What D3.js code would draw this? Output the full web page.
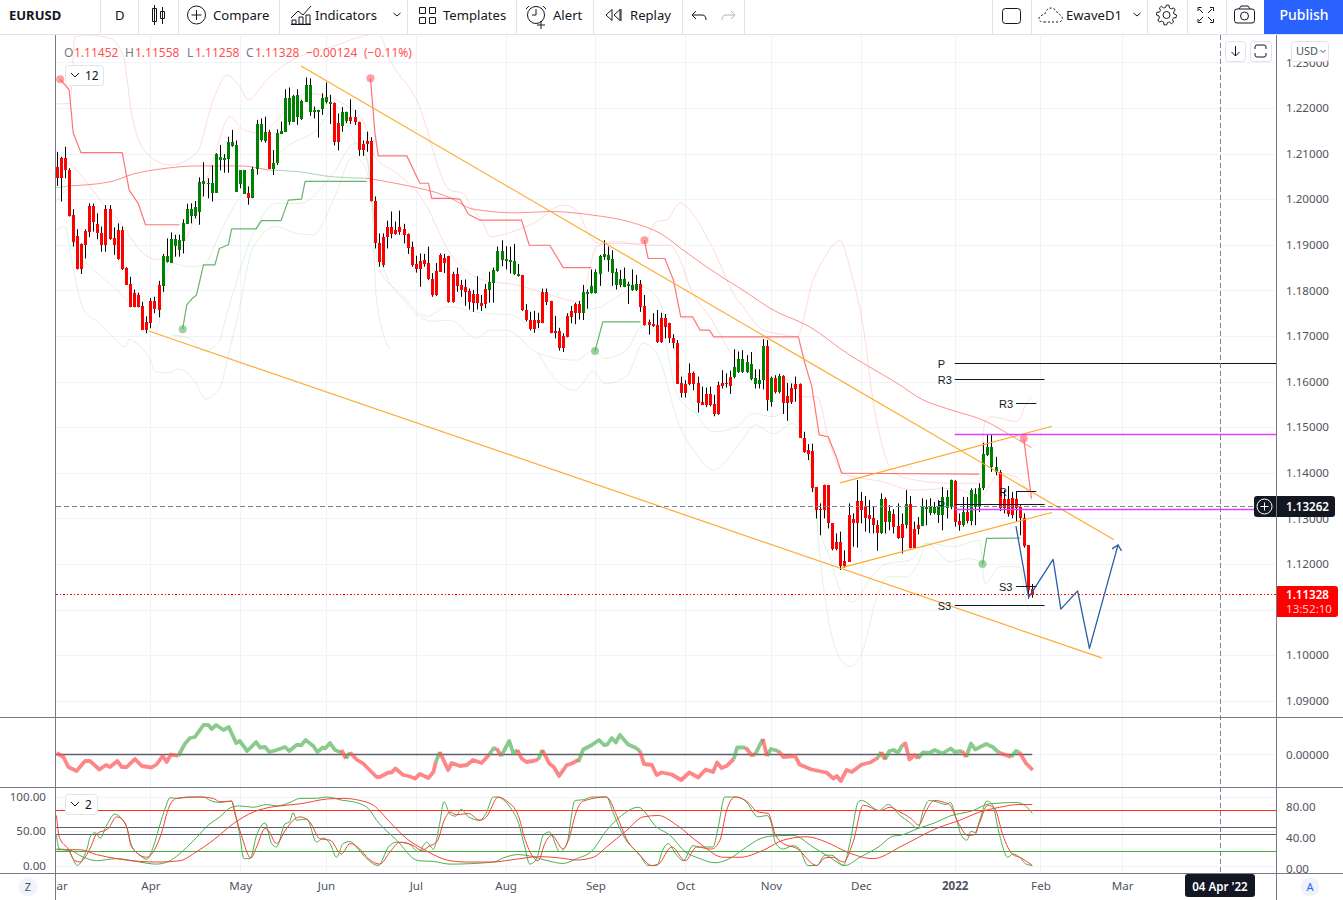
<!DOCTYPE html>
<html>
<head>
<meta charset="utf-8">
<title>EURUSD</title>
<script src="https://cdn.jsdelivr.net/npm/d3@7/dist/d3.min.js"></script>
<style>
  html, body { margin: 0; padding: 0; background: #fff; overflow: hidden; }
  svg { display: block; }
  text { font-family: "Noto Sans", sans-serif; }
  .axis path { display: none; }
  .axis line { display: none; }
</style>
</head>
<body>
<svg id="chart" width="1343" height="900"></svg>
<script>
// daily candles, prices in 1/10000
const highs = [
  12104,12093,12115,12068,11978,11934,11903,11934,11991,11990,
  11969,11940,11987,11987,11938,11947,11940,11851,11830,11802,
  11795,11775,11743,11783,11786,11821,11880,11914,11927,11922,
  11922,11956,11990,11991,11996,12048,12081,12046,12074,12101,
  12119,12099,12137,12152,12129,12064,12064,12028,12071,12174,
  12177,12181,12152,12108,12153,12170,12241,12245,12229,12241,
  12218,12267,12265,12203,12196,12232,12256,12229,12212,12188,
  12202,12192,12219,12196,12170,12129,12148,12136,12006,11925,
  11925,11953,11973,11951,11975,11946,11925,11907,11876,11881,
  11880,11896,11838,11860,11881,11880,11876,11841,11850,11823,
  11824,11804,11801,11831,11790,11814,11841,11850,11896,11910,
  11897,11896,11902,11858,11834,11770,11753,11755,11751,11804,
  11804,11777,11744,11718,11706,11750,11766,11773,11777,11812,
  11802,11846,11846,11878,11910,11896,11888,11848,11845,11850,
  11819,11846,11834,11823,11790,11736,11750,11757,11751,11748,
  11729,11704,11691,11611,11603,11640,11622,11611,11589,11587,
  11589,11571,11600,11625,11618,11624,11671,11666,11669,11658,
  11665,11627,11627,11693,11691,11611,11614,11617,11614,11597,
  11596,11611,11596,11490,11463,11464,11369,11333,11374,11373,
  11289,11267,11271,11230,11333,11311,11384,11358,11349,11340,
  11325,11296,11355,11346,11329,11320,11333,11311,11362,11349,
  11293,11303,11344,11341,11344,11336,11340,11369,11362,11385,
  11384,11311,11347,11347,11366,11366,11377,11466,11483,11483,
  11435,11406,11362,11371,11358,11358,11329,11311,11241,11156]
const opens = [
  12071,12090,12090,12064,11966,11919,11902,11930,11985,11985,
  11946,11925,11978,11978,11916,11933,11933,11849,11814,11794,
  11790,11766,11731,11777,11777,11812,11810,11862,11861,11898,
  11889,11909,11946,11963,11963,11973,12034,12033,12014,12014,
  12085,12085,12089,12117,12016,12033,12012,12014,12003,12066,
  12129,12128,12148,12066,12079,12144,12148,12170,12170,12181,
  12175,12214,12192,12191,12191,12197,12213,12209,12210,12167,
  12161,12172,12180,12180,12169,12121,12127,12127,11995,11905,
  11917,11938,11938,11933,11938,11935,11923,11895,11858,11865,
  11867,11860,11824,11842,11878,11872,11876,11836,11836,11811,
  11807,11798,11792,11792,11772,11803,11801,11817,11842,11867,
  11864,11862,11836,11831,11834,11758,11736,11736,11736,11796,
  11796,11776,11711,11711,11700,11744,11754,11771,11771,11751,
  11792,11795,11795,11837,11874,11867,11839,11812,11812,11808,
  11810,11801,11801,11815,11766,11731,11726,11724,11739,11739,
  11728,11695,11684,11596,11595,11619,11619,11598,11556,11573,
  11573,11551,11592,11596,11598,11609,11609,11622,11622,11621,
  11605,11595,11595,11603,11678,11555,11608,11577,11612,11568,
  11585,11595,11595,11477,11450,11447,11368,11320,11373,11373,
  11289,11249,11249,11207,11307,11298,11338,11338,11325,11307,
  11301,11285,11267,11342,11292,11309,11283,11287,11285,11331,
  11276,11285,11284,11320,11312,11312,11307,11307,11322,11325,
  11382,11294,11285,11313,11294,11324,11324,11366,11440,11412,
  11402,11402,11342,11342,11344,11342,11325,11300,11241,11145]
const closes = [
  12046,12046,12063,11963,11907,11846,11846,11900,11929,11949,
  11925,11900,11900,11912,11900,11869,11846,11812,11763,11763,
  11764,11713,11713,11729,11759,11756,11876,11876,11913,11913,
  11911,11947,11979,11979,11982,12038,12039,12036,12036,12099,
  12092,12090,12125,12125,12119,12064,12064,12003,12066,12165,
  12165,12148,12066,12079,12145,12150,12221,12221,12227,12229,
  12215,12251,12251,12196,12196,12223,12225,12214,12125,12125,
  12191,12191,12172,12169,12108,12108,12120,11995,11905,11863,
  11856,11917,11923,11924,11929,11922,11894,11856,11846,11848,
  11857,11824,11790,11791,11841,11860,11775,11774,11810,11801,
  11796,11774,11773,11773,11766,11770,11818,11845,11886,11886,
  11868,11867,11864,11837,11757,11735,11715,11715,11728,11729,
  11775,11707,11707,11674,11674,11698,11742,11751,11751,11796,
  11796,11810,11840,11875,11880,11878,11868,11840,11825,11825,
  11814,11812,11814,11764,11724,11725,11722,11687,11687,11720,
  11695,11684,11595,11576,11576,11595,11595,11554,11549,11549,
  11549,11529,11529,11590,11595,11590,11631,11649,11649,11644,
  11638,11607,11603,11678,11560,11608,11577,11612,11554,11554,
  11556,11583,11477,11446,11441,11367,11318,11318,11318,11289,
  11233,11233,11195,11195,11205,11290,11290,11318,11300,11298,
  11285,11267,11342,11292,11316,11282,11257,11256,11331,11236,
  11236,11276,11327,11325,11327,11325,11327,11346,11347,11384,
  11293,11285,11313,11294,11362,11353,11366,11442,11456,11456,
  11412,11323,11322,11309,11307,11323,11300,11239,11144,11133]
const lows = [
  12029,11995,12046,11962,11896,11846,11836,11870,11917,11929,
  11912,11885,11885,11911,11878,11867,11845,11812,11763,11763,
  11763,11713,11706,11717,11750,11741,11797,11861,11861,11874,
  11874,11881,11946,11947,11958,11944,12006,12002,11995,12014,
  12063,12058,12058,12115,12016,12024,12012,11988,12002,12054,
  12126,12124,12066,12053,12075,12143,12148,12163,12170,12163,
  12174,12214,12183,12177,12135,12185,12210,12165,12118,12107,
  12148,12167,12165,12163,12095,12095,12104,11995,11892,11852,
  11851,11892,11914,11922,11922,11903,11880,11852,11839,11808,
  11852,11823,11786,11788,11841,11838,11773,11773,11797,11786,
  11766,11758,11753,11758,11755,11761,11773,11773,11841,11853,
  11846,11837,11834,11830,11755,11732,11712,11707,11717,11728,
  11768,11706,11695,11668,11665,11697,11728,11726,11736,11735,
  11760,11793,11793,11810,11867,11841,11810,11802,11807,11807,
  11770,11799,11799,11753,11723,11703,11720,11685,11685,11695,
  11685,11673,11595,11565,11565,11592,11581,11532,11549,11544,
  11546,11524,11527,11585,11587,11573,11607,11619,11619,11619,
  11603,11585,11585,11583,11536,11545,11574,11574,11529,11514,
  11551,11556,11477,11444,11428,11358,11300,11263,11300,11278,
  11230,11230,11187,11192,11205,11238,11236,11289,11271,11268,
  11267,11229,11266,11267,11274,11267,11255,11223,11278,11234,
  11234,11265,11283,11285,11307,11309,11290,11274,11300,11320,
  11282,11273,11282,11289,11285,11285,11314,11362,11437,11402,
  11395,11316,11311,11304,11300,11293,11263,11236,11124,11126]

// axis ticks
const priceTicks = [1.23,1.22,1.21,1.20,1.19,1.18,1.17,1.16,1.15,1.14,1.13,1.12,1.11,1.10,1.09]
const hiddenPriceLabels = [1.11]   // sits behind the last price tag
const timeTicks = [0,23,45,66,88,110,132,154,175,197,220,241,261]
const timeLabels = ["Mar","Apr","May","Jun","Jul","Aug","Sep","Oct","Nov","Dec","2022","Feb","Mar"]
const stochLeftTicks = [100,50,0]
const stochRightTicks = [80,40,0]

// trailing stop runs, [bar, price]
const stopRedA = [[0.9,12263],[3.1,12240],[4.1,12145],[6,12102],[16.1,12102],[17.8,12020],[20,11991],[21.8,11944],[30.1,11944]]
const stopGreenA = [[30.9,11715],[31.9,11768],[33.1,11781],[34.3,11790],[36,11856],[38.8,11856],[39.9,11892],[42.1,11900],[42.9,11935],[48.9,11935],[50.2,11953],[55,11953],[56.8,11998],[60,12000],[60.9,12039],[76,12039]]
const stopRedB = [[76.9,12265],[78,12145],[78.8,12095],[85.8,12095],[89,12035],[91.1,12035],[91.9,12002],[96.4,12002],[98.8,12000],[100.9,11967],[103.7,11954],[113.9,11954],[115.8,11899],[120.8,11899],[124.1,11850],[131,11850]]
const stopGreenB = [[131.9,11667],[133.8,11731],[143,11731]]
const stopRedC = [[144,11910],[144.9,11870],[149,11870],[151.1,11823],[152.9,11742],[155.8,11742],[157.6,11713],[159.9,11713],[161,11698],[181.7,11698],[183.3,11640],[185,11589],[186.8,11483],[189,11479],[191,11435],[192.3,11399],[192.7,11399],[226,11397]]
const stopGreenC = [[226.8,11200],[227.8,11256],[236.1,11257]]
const stopRedD = [[236.9,11475],[238.8,11344]]

// long moving average
const maGreenA = [[0,12025],[2.8,12029]]
const maRedA = [[2.8,12029],[13.1,12038],[18.7,12055],[25.3,12066],[35,12073],[44.9,12073],[51.8,12064]]
const maGreenB = [[51.8,12064],[59.6,12060],[67.7,12049],[75.8,12046]]
const maRedB = [[75.8,12046],[84.1,12033],[96.4,12003],[101.3,11980],[104.5,11975],[112.7,11970],[120.9,11973],[131.4,11965],[140.5,11950],[148.6,11921],[153.4,11889],[160,11847],[169.9,11790],[174.7,11761],[184.5,11720],[194.3,11658],[198.4,11636],[205.8,11597],[212.2,11560],[218,11541],[227.8,11512],[234.3,11479],[238.8,11455]]

// faint envelope bands
const bandRedOuter = [[0,12209],[3.3,12210],[4.5,12357],[7.4,12360],[13.1,12353],[16.4,12313],[18.4,12188],[22.1,12101],[27.8,12075],[34.3,12101],[38.4,12218],[41.7,12272],[44.9,12247],[47,12218],[51.5,12262],[56.4,12298],[67.8,12335],[76,12360],[78.8,12364],[81.7,12305],[88.2,12218],[96.4,12020],[99.6,12013],[101.3,11987],[104.5,11947],[106.2,11918],[112.7,11932],[116.8,11947],[124.1,11987],[127.4,11976],[130.7,11918],[133.1,11903],[143.7,11903],[147,11951],[149.4,11954],[152.7,11992],[155.1,11976],[158.4,11932],[161.7,11874],[165.8,11793],[168.2,11764],[173.1,11713],[178.8,11702],[181.3,11698],[185.3,11823],[187.8,11867],[191.9,11909],[194.3,11851],[198.4,11669],[199.6,11581],[201.7,11479],[204.1,11413],[208.2,11388],[218.8,11377],[226,11377],[227.4,11512],[229,11523],[235.1,11512],[237.6,11552],[238.8,11567]]
const bandRedInner = [[0,12101],[4.9,12064],[10.7,11998],[16.4,11940],[20.4,11889],[24.5,11868],[27.8,11870],[34.3,11969],[38.4,12086],[42.5,12181],[45.8,12152],[49.8,12145],[56.4,12196],[61.3,12232],[72.7,12196],[76,12152],[78,12093],[83.3,12057],[89.8,11998],[96.4,11881],[104.5,11823],[112.7,11812],[120,11793],[128.2,11775],[132.3,11896],[137.2,11907],[143.7,11899],[150.2,11899],[153.4,11852],[155.1,11808],[160,11742],[165.8,11655],[169.9,11618],[173.1,11611],[179.6,11603],[182,11567],[186.2,11567],[189.4,11464],[192.7,11399],[202.5,11380],[209.8,11362],[219.6,11366],[226.1,11347],[231,11398],[235.1,11391],[238.8,11340]]
const bandGreenA = [[0,11995],[2.9,12020],[4.3,11889],[8.2,11852],[13.9,11808],[19.6,11757],[24.5,11717],[27.8,11860],[32.7,11852],[36,11856],[40.4,11933],[44.9,12006],[49.8,12057],[56.4,12115],[63.7,12152],[68.6,12203],[73.1,12126],[76,12093],[77.2,12013],[78.8,11852],[84.1,11794],[90.7,11743],[95.6,11764],[104.5,11750],[111,11747],[118.4,11713],[127.4,11757],[132.3,11761],[137.2,11786],[143,11808],[147,11786],[151.1,11676],[156.8,11530],[160.9,11490],[166.6,11501],[170.6,11530],[175.5,11523],[180.4,11545],[182.9,11465],[185.3,11384],[186.2,11304],[189.4,11216],[192.3,11135],[195.1,11117],[199.6,11172],[203.3,11201],[209,11208],[213.1,11246],[219.6,11238],[226.1,11252],[227.4,11157],[231,11194],[235.9,11194],[237.6,11113],[238.8,11095]]
const bandGreenB = [[28,11702],[32.5,11696],[35.9,11667],[39.6,11685],[42,11757],[48.2,11925],[53.9,11991],[59.6,11991],[67.8,12057],[73.1,12123],[76,12086],[77.6,11969],[80,11852],[85,11779],[92,11732],[96.4,11735],[102.9,11695],[106.2,11713],[110.2,11713],[118,11662],[127.4,11647],[131.5,11669],[134.3,11651],[139.6,11669],[143.7,11724],[148.6,11698],[151.9,11574],[156.8,11530]]
const bandGreenC = [[0,11933],[2.1,11940],[3.7,11867],[6.7,11757],[10.4,11729],[14.1,11696],[17,11676],[17.8,11693],[19.5,11685],[22.7,11652],[24.4,11621],[27.6,11619],[29.8,11628],[33.7,11603],[36.6,11562],[39.1,11575],[40.3,11593],[42,11654],[44.7,11757],[48.2,11896],[53.9,11940],[58.8,11925],[62.9,11922],[67.8,11998],[72.7,12093],[74.3,12086],[76.8,12035],[78.4,11779],[81.7,11669]]
const bandGreenD = [[118,11662],[122.5,11603],[127,11581],[131.5,11622],[134.3,11596],[139.6,11611],[143.7,11684],[147,11662],[152.7,11501],[156,11450],[160.9,11406],[167.4,11465],[171.1,11505],[175.5,11486],[180.4,11508],[182.9,11465],[185.3,11384],[187,11216],[191.9,10993],[194.3,10975],[197.2,11004],[201.2,11135],[203.7,11172],[208.2,11172],[211,11201],[213.1,11245],[218.8,11205],[223.7,11212],[226.9,11201]]

// hand drawn trend lines, [bar, price]
const trendChannelTop = [[59.9,12292],[259,11253]]
const trendChannelBottom = [[22.6,11711],[256,10994]]
const trendWedgeTop = [[191.9,11378],[243.8,11502]]
const trendWedgeBottom = [[192.3,11192],[243.8,11313]]
const waveForecast = [[235,11283],[238.1,11127],[244.1,11210],[246,11101],[250.1,11141],[253,11015],[260,11242]]

// pivot levels
const pivotNames = ["P","R3","R3","R","P","S3","S3"]
const pivotPrices = [1.16397,1.16046,1.15520,1.1359,1.13305,1.11510,1.1109]
const pivotFrom = [220,220,235,235,220,235,220]
const pivotTo = [299,242,240,240,242,240,242]
const magentaPrices = [1.1484,1.13195]

// oscillator runs, [bar, value]
const oscGreen = [
  [[29.8,-.0003],[31.5,.0022],[32.7,.0033],[33.9,.0035],[36,.0059],[37.2,.0059],[38,.0051],[39.1,.0059],[40.9,.0049],[42.2,.0055],[44,.0023],[44.9,.0027],[46.7,.0007],[48.9,.0025],[49.8,.0014],[51.1,.0015],[52.1,.0005],[53.9,.0009],[56,.0015],[57,.0007],[58.8,.0019],[60,.0019],[61,.0029],[62.9,.0017],[63.9,.0005],[65.2,.0014],[65.8,.0012],[67,.0023],[68.2,.0009],[69.8,.0004]],
  [[70.9,-.0008],[71.9,.0004]],
  [[92.9,-.0015],[93.9,.0005]],
  [[106,0],[107,.0012],[107.8,.0012]],
  [[108.9,-.0003],[110.9,.0027],[111.9,.0002],[112.9,.0009]],
  [[118,-.0010],[119,.0009]],
  [[127.8,-.0015],[129,.0010],[131.1,.0019],[132.9,.0029],[134.1,.0019],[134.9,.0020],[136,.0033],[137,.0024],[138,.0039],[140,.0020],[141.7,.0014],[142.9,.0007]],
  [[165.9,-.0009],[166.7,.0014],[168.8,.0014]],
  [[171.1,0],[173,.0031]],
  [[174,-.0003],[175,.0011],[176.8,.0007]],
  [[201.3,-.0006],[202,.0005]],
  [[202.9,-.0010],[204,.0007],[205,.0009],[205.9,.0005],[206.1,.0004],[207.3,.0020]],
  [[211,-.0008],[212.2,.0004],[213.7,.0003],[215.1,.0009],[217,.0002],[219,.0012],[220,.0005],[221.8,.0007]],
  [[222.8,-.0005],[224,.0022],[225,.0010],[227.7,.0021],[229.3,.0015],[230.8,.0004]],
  [[233.8,-.0005],[235,.0007],[235.8,.0005]]
]
const oscRed = [
  [[0,.0003],[1.7,-.0005],[2.9,-.0025],[4.9,-.0033],[7,-.0013],[8.2,-.0013],[10.5,-.0030],[12.1,-.0021],[13.1,-.0025],[14.9,-.0013],[16,-.0025],[17.2,-.0025],[19.2,-.0009],[20.9,-.0023],[23.3,-.0026],[24.5,-.0020],[26,-.0003],[27,-.0015],[28,0],[29.8,-.0003]],
  [[69.8,.0009],[70.9,-.0008]],
  [[71.9,.0004],[73.5,-.0010],[75.1,-.0018],[78.4,-.0045],[79.2,-.0045],[81.3,-.0036],[82.1,-.0036],[83,-.0028],[84.9,-.0041],[86.2,-.0043],[87.8,-.0048],[89,-.0039],[91.1,-.0047],[92.3,-.0035],[92.9,-.0015]],
  [[93.9,.0005],[95.9,-.0031],[96.8,-.0017],[98.8,-.0023],[100.5,-.0021],[102,-.0011],[104.1,-.0017],[106,0]],
  [[107.8,.0012],[108.9,-.0003]],
  [[112.9,.0009],[113.9,-.0008],[115.1,-.0015],[116.8,-.0013],[118,-.0010]],
  [[119,.0009],[120.7,-.0018],[121.8,-.0025],[123.1,-.0043],[125,-.0021],[126.2,-.0018],[127.8,-.0011]],
  [[142.9,.0007],[143.9,-.0019],[145.8,-.0021],[147,-.0041],[148.2,-.0036],[150.7,-.0040],[153,-.0051],[155,-.0036],[157.2,-.0046],[159,-.0030],[160.8,-.0035],[161.8,-.0016],[162.9,-.0027],[164.1,-.0023],[165.9,-.0009]],
  [[168.8,.0014],[170.2,-.0001],[171.1,0]],
  [[173,.0031],[174,-.0003]],
  [[176.8,.0007],[178,-.0005],[180.9,-.0003],[182,-.0020],[184.9,-.0030],[188.6,-.0036],[190.3,-.0048],[191.1,-.0043],[192.1,-.0053],[193.5,-.0031],[194.8,-.0035],[197.2,-.0020],[199.3,-.0016],[201.3,-.0006]],
  [[202,.0005],[202.9,-.0010]],
  [[207.3,.0020],[207.9,.0022],[208.9,-.0010],[210.2,-.0001],[211,-.0008]],
  [[221.8,.0007],[222.8,-.0005]],
  [[230.8,.0004],[233.8,-.0005]],
  [[235.8,.0005],[237.5,-.0018],[239.1,-.0031]]
]

// stochastic lines, [bar, value]
const stochFastGreen = [[0,44],[.7,24],[2.9,22],[4,10],[5.1,0],[6.6,12],[7.6,27],[8.2,41],[9.4,48],[10.7,40],[12.3,59],[14.3,75],[16,68],[17.2,56],[18.4,29],[20.4,15],[22.1,9],[23.7,27],[25.3,59],[26.6,83],[27.8,99],[29.4,98],[31.9,100],[36,100],[37.6,95],[40,92],[42.9,94],[43.7,78],[44.9,44],[45.9,10],[47.4,10],[49,44],[51.1,62],[52.7,32],[53.9,27],[56,61],[57,63],[58,77],[58.8,66],[61.3,68],[63.7,34],[65.3,40],[67,32],[68.6,12],[70.2,32],[71.9,35],[73.9,24],[76,10],[78.8,0],[81.3,27],[83.3,34],[86.2,32],[88.6,20],[90.7,34],[92.3,24],[93.9,63],[94.9,93],[96.4,75],[97.8,72],[99.1,82],[100.9,71],[103.7,66],[105.2,76],[107,100],[107.8,100],[111.1,85],[113.1,63],[114.7,27],[115.9,2],[117.6,10],[119.2,44],[120.7,49],[123.3,20],[125,32],[127,95],[129,96],[131.1,100],[134.7,100],[136.4,76],[138.8,44],[142.9,15],[144.9,0],[147,0],[148.6,24],[149.8,32],[151.9,15],[153.5,7],[155.9,29],[157.6,27],[160.8,27],[162,54],[163.7,100],[166.6,100],[168.6,95],[171.9,71],[174,73],[175.2,59],[176,34],[178,24],[180.4,29],[182,24],[184,0],[186.2,0],[188.2,15],[189.9,15],[192.7,0],[194.3,32],[196.4,93],[197.2,95],[199.3,88],[201.3,80],[203.7,89],[206.6,73],[208.9,63],[211,54],[212.2,78],[213.8,95],[215.5,93],[217.9,89],[218.9,92],[220.4,68],[221.6,44],[223,37],[224,50],[225,48],[226.2,68],[227.9,94],[229.3,88],[230.8,49],[233,12],[234.2,17],[235.9,12],[237.5,2],[239,0]]
const stochFastRed = [[0,73],[.7,41],[2.9,24],[4.5,7],[5.8,5],[7,12],[8.4,27],[9.8,46],[12.7,54],[14.7,71],[16,68],[17.2,56],[18.4,27],[22.1,12],[23.7,20],[25.8,49],[27.4,83],[29.4,98],[35.1,100],[38.4,98],[40,93],[42.9,94],[43.7,76],[45.3,44],[47.6,11],[49,27],[51.1,54],[51.9,51],[53.9,32],[56,51],[58,66],[59.6,71],[62.1,63],[64.5,39],[67,37],[69.8,17],[71.9,32],[74.3,24],[76.4,10],[79.2,2],[81.7,20],[84.1,34],[87.4,29],[89.4,22],[91.5,29],[93.1,34],[95.1,68],[96.4,78],[98,74],[100.9,76],[103.7,66],[105.3,71],[108.2,100],[110.3,94],[113.1,73],[114.7,39],[116.8,12],[118,7],[119.6,32],[121.3,44],[124.1,24],[125.4,37],[127.4,80],[129,94],[134.7,100],[137.2,73],[139.6,39],[142.9,15],[145.8,0],[147.4,2],[150.7,27],[154,7],[156.8,27],[160.4,24],[162.5,37],[164.1,80],[166.2,100],[169,94],[171.9,78],[174.3,76],[176,46],[178,32],[181.3,25],[186.2,0],[188.2,11],[190.3,12],[192.7,5],[195.1,34],[197.6,88],[201.7,80],[204.1,85],[206.6,78],[207.3,76],[209.4,68],[211.2,59],[213,80],[215,95],[217.5,92],[218.7,89],[220.8,63],[223.2,44],[224.9,45],[226,61],[228.1,88],[229.8,83],[231.8,44],[234.2,16],[235.9,12],[239,0]]
const stochSlowGreen = [[0,24],[2.9,23],[6.6,12],[9.8,7],[14.7,10],[20.4,5],[24.5,2],[27.8,7],[31.1,22],[34.3,41],[37.2,59],[40,71],[42.5,84],[44.9,87],[48.2,85],[51.5,89],[53.9,87],[57.2,92],[59.6,98],[63.7,98],[66.2,100],[70.2,95],[72.7,93],[76.4,83],[78.4,66],[83.3,37],[88.6,7],[92.3,6],[96.4,2],[107,5],[109.4,11],[113.1,16],[115.9,14],[120.9,6],[124.1,3],[127.4,10],[131.1,21],[134.7,51],[138,71],[142.5,85],[147,56],[150.3,44],[154,20],[157.2,11],[161.3,4],[164.5,9],[169,27],[172.3,39],[175.2,43],[180.4,44],[185.3,27],[189.4,12],[193.1,0],[196.8,12],[201.3,27],[205,43],[206.6,44],[211,54],[215,62],[218.7,72],[224.4,80],[228.5,90],[235,92],[237.1,88],[239,76]]
const stochSlowRed = [[0,23],[2.9,23],[5.8,23],[9.8,16],[14.7,10],[20.4,6],[25.3,5],[30.2,7],[34.3,20],[38.4,37],[43.3,61],[48.2,78],[51.5,84],[56.4,88],[59.6,90],[66.2,97],[70.2,98],[74.3,95],[77.6,88],[81.7,63],[85.8,39],[89.8,24],[96.4,7],[100.4,5],[106.6,5],[111.1,8],[118.4,13],[123.3,11],[127.4,8],[131.5,12],[134.7,27],[139.6,51],[143.7,71],[147.4,73],[151.9,59],[157.6,32],[163.3,12],[167.4,12],[173,22],[178,37],[183.7,42],[188.6,34],[193.9,19],[200,10],[206.6,27],[209.8,37],[215.5,54],[221.2,66],[226.1,78],[231,85],[235.5,89],[239,89]]
const stochRedLevel = 80
const stochGreenLevel = 20
const stochGrayLevels = [55.5,45.5]

const lastClose = 1.11328
const crossPrice = 1.13262
const crossBar = 285

const svg = d3.select("#chart")

// scales
const x = d3.scaleLinear().domain([0,239]).range([56.5,1032.3])
const yPrice = d3.scaleLinear().domain([1.22,1.09]).range([108,700.8])
const yOsc = d3.scaleLinear().domain([0,0.01]).range([754.5,704.5])
const yStoch = d3.scaleLinear().domain([0,100]).range([865.5,797])
const yStochRight = d3.scaleLinear().domain([0,80]).range([868.5,806.5])

const textGray = "#50535e"
const lineGray = "#787b86"
const gridColor = "#f0f3fa"
const snap = v => Math.floor(v)+.5

const defs = svg.append("defs")
defs.append("clipPath").attr("id","main-clip").append("rect").attr("x",56).attr("y",35).attr("width",1220).attr("height",682)
defs.append("clipPath").attr("id","time-clip").append("rect").attr("x",56).attr("y",874).attr("width",1220).attr("height",26)
defs.append("clipPath").attr("id","right-clip").append("rect").attr("x",1277).attr("y",788).attr("width",66).attr("height",85)

// grid
const grid = svg.append("g")
grid.selectAll("line.v").data(timeTicks.slice(1).concat([crossBar])).enter().append("line")
  .attr("x1",d=>Math.round(x(d))+.5).attr("x2",d=>Math.round(x(d))+.5)
  .attr("y1",35).attr("y2",873).attr("stroke",gridColor)
grid.selectAll("line.h").data(priceTicks).enter().append("line")
  .attr("x1",56).attr("x2",1276).attr("y1",d=>Math.round(yPrice(d))+.5).attr("y2",d=>Math.round(yPrice(d))+.5)
  .attr("stroke",gridColor)
grid.selectAll("line.s").data(stochLeftTicks).enter().append("line")
  .attr("x1",56).attr("x2",1276).attr("y1",d=>Math.round(yStoch(d))+.5).attr("y2",d=>Math.round(yStoch(d))+.5)
  .attr("stroke",gridColor)
grid.append("line").attr("x1",56).attr("x2",1276).attr("y1",754.5).attr("y2",754.5).attr("stroke",gridColor)

const priceLine = d3.line().x(d=>x(d[0])).y(d=>yPrice(d[1]/10000))
const main = svg.append("g").attr("clip-path","url(#main-clip)")

function drawPrice(data, color, width, opacity, curve) {
  main.append("path")
    .attr("d", priceLine.curve(curve || d3.curveLinear)(data))
    .attr("fill","none").attr("stroke",color).attr("stroke-width",width).attr("stroke-opacity",opacity)
    .attr("stroke-linejoin","round")
}

// faint bands first
;[bandRedOuter,bandRedInner].forEach(b=>drawPrice(b,"#ff5252",1,.2,d3.curveMonotoneX))
;[bandGreenA,bandGreenB,bandGreenC,bandGreenD].forEach(b=>drawPrice(b,"#4caf50",1,.17,d3.curveMonotoneX))

// long average
;[maGreenA,maGreenB].forEach(b=>drawPrice(b,"#388e3c",1,.4,d3.curveMonotoneX))
;[maRedA,maRedB].forEach(b=>drawPrice(b,"#ff5252",1,.65,d3.curveMonotoneX))

// stop runs with a dot on the first point
;[stopRedA,stopRedB,stopRedC,stopRedD].forEach(b=>{
  drawPrice(b,"#ff5252",1.2,.8)
  main.append("circle").attr("cx",x(b[0][0])).attr("cy",yPrice(b[0][1]/10000)).attr("r",4)
    .attr("fill","#ff5252").attr("fill-opacity",.55)
})
;[stopGreenA,stopGreenB,stopGreenC].forEach(b=>{
  drawPrice(b,"#43a047",1.2,.8)
  main.append("circle").attr("cx",x(b[0][0])).attr("cy",yPrice(b[0][1]/10000)).attr("r",4)
    .attr("fill","#4caf50").attr("fill-opacity",.55)
})

// candles
const bars = d3.range(highs.length).map(i=>({i, o:opens[i]/10000, h:highs[i]/10000, l:lows[i]/10000, c:closes[i]/10000}))
const candle = main.selectAll("g.candle").data(bars).enter().append("g")
candle.append("line")
  .attr("x1",d=>Math.round(x(d.i))+.5).attr("x2",d=>Math.round(x(d.i))+.5)
  .attr("y1",d=>yPrice(d.h)).attr("y2",d=>yPrice(d.l))
  .attr("stroke","#000")
candle.append("rect")
  .attr("x",d=>Math.round(x(d.i))-1).attr("width",3)
  .attr("y",d=>Math.round(yPrice(Math.max(d.o,d.c))))
  .attr("height",d=>Math.max(1,Math.round(yPrice(Math.min(d.o,d.c)))-Math.round(yPrice(Math.max(d.o,d.c)))))
  .attr("fill",d=>d.c>=d.o?"#008000":"#ff0000")

// trend lines
;[trendChannelTop,trendChannelBottom,trendWedgeTop,trendWedgeBottom].forEach(t=>drawPrice(t,"#ffa726",1.2,.95))
drawPrice(waveForecast,"#2a5ca8",1.3,1)
// arrow head on the wave
const tip = waveForecast[waveForecast.length-1]
main.append("path")
  .attr("d",`M${x(tip[0])-6},${yPrice(tip[1]/10000)+4}L${x(tip[0])},${yPrice(tip[1]/10000)}L${x(tip[0])+3.5},${yPrice(tip[1]/10000)+6}`)
  .attr("fill","none").attr("stroke","#2a5ca8").attr("stroke-width",1.3)

// pivots
pivotNames.forEach((name,k)=>{
  const yy = snap(yPrice(pivotPrices[k]))
  main.append("line").attr("x1",x(pivotFrom[k])).attr("x2",x(pivotTo[k])).attr("y1",yy).attr("y2",yy).attr("stroke","#131722")
  main.append("text").attr("x",x(pivotFrom[k])-17).attr("y",yy+4)
    .style("font-family","'Liberation Sans',sans-serif").attr("font-size",11).attr("fill","#131722").text(name)
})

// last price and crosshair lines
main.append("line").attr("x1",56).attr("x2",1277).attr("y1",snap(yPrice(lastClose))).attr("y2",snap(yPrice(lastClose)))
  .attr("stroke","#ff0000").attr("stroke-dasharray","1.5 2").attr("shape-rendering","crispEdges")
main.append("line").attr("x1",56).attr("x2",1277).attr("y1",snap(yPrice(crossPrice))).attr("y2",snap(yPrice(crossPrice)))
  .attr("stroke","#758696").attr("stroke-dasharray","5 3")

// magenta levels above the crosshair line
magentaPrices.forEach(p=>{
  main.append("line").attr("x1",x(220)).attr("x2",1277).attr("y1",snap(yPrice(p))).attr("y2",snap(yPrice(p)))
    .attr("stroke","#e040fb").attr("stroke-width",1.7)
})

// oscillator
const oscLine = d3.line().x(d=>x(d[0])).y(d=>yOsc(d[1])).curve(d3.curveLinear)
svg.append("line").attr("x1",56).attr("x2",x(239)).attr("y1",754.5).attr("y2",754.5).attr("stroke","#5d606b").attr("stroke-width",1.4)
oscGreen.forEach(run=>svg.append("path").attr("d",oscLine(run)).attr("fill","none").attr("stroke","#4caf50").attr("stroke-width",3.8).attr("stroke-opacity",.65).attr("stroke-linejoin","round"))
oscRed.forEach(run=>svg.append("path").attr("d",oscLine(run)).attr("fill","none").attr("stroke","#ff5252").attr("stroke-width",3.8).attr("stroke-opacity",.7).attr("stroke-linejoin","round"))

// stochastic
stochGrayLevels.forEach(v=>svg.append("line").attr("x1",56).attr("x2",1276).attr("y1",snap(yStoch(v))).attr("y2",snap(yStoch(v))).attr("stroke","#5d606b"))
svg.append("line").attr("x1",56).attr("x2",1276).attr("y1",snap(yStoch(stochRedLevel))).attr("y2",snap(yStoch(stochRedLevel))).attr("stroke","#ff2a1a").attr("shape-rendering","crispEdges")
svg.append("line").attr("x1",56).attr("x2",1276).attr("y1",snap(yStoch(stochGreenLevel))).attr("y2",snap(yStoch(stochGreenLevel))).attr("stroke","#43ad3c").attr("shape-rendering","crispEdges")
const stochLine = d3.line().x(d=>x(d[0])).y(d=>yStoch(d[1])).curve(d3.curveMonotoneX)
;[[stochSlowGreen,"#4caf50"],[stochSlowRed,"#f44336"],[stochFastGreen,"#4caf50"],[stochFastRed,"#f44336"]].forEach(s=>{
  svg.append("path").attr("d",stochLine(s[0])).attr("fill","none").attr("stroke",s[1]).attr("stroke-width",1)
})

// crosshair vertical
svg.append("line").attr("x1",Math.round(x(crossBar))+.5).attr("x2",Math.round(x(crossBar))+.5).attr("y1",35).attr("y2",873)
  .attr("stroke","#758696").attr("stroke-dasharray","5 3")

// pane frame
;[717.5,787.5,873.5].forEach(yy=>svg.append("line").attr("x1",0).attr("x2",1343).attr("y1",yy).attr("y2",yy).attr("stroke",lineGray))
svg.append("line").attr("x1",55.5).attr("x2",55.5).attr("y1",35).attr("y2",900).attr("stroke",lineGray)
svg.append("line").attr("x1",1276.5).attr("x2",1276.5).attr("y1",35).attr("y2",900).attr("stroke",lineGray)

// axes
const axisFont = 11.6
const rightAxis = svg.append("g").attr("class","axis").attr("transform","translate(1276,0)")
  .call(d3.axisRight(yPrice).tickValues(priceTicks.filter(p=>!hiddenPriceLabels.includes(p))).tickSize(0).tickPadding(10).tickFormat(d3.format(".5f")))
rightAxis.selectAll("text").attr("fill",textGray).attr("font-size",axisFont)

const oscAxis = svg.append("g").attr("class","axis").attr("transform","translate(1276,0)")
  .call(d3.axisRight(yOsc).tickValues([0]).tickSize(0).tickPadding(10).tickFormat(d3.format(".5f")))
oscAxis.selectAll("text").attr("fill",textGray).attr("font-size",axisFont)

const stochRightClip = svg.append("g").attr("clip-path","url(#right-clip)")
const stochRight = stochRightClip.append("g").attr("class","axis").attr("transform","translate(1276,0)")
  .call(d3.axisRight(yStochRight).tickValues(stochRightTicks).tickSize(0).tickPadding(10).tickFormat(d3.format(".2f")))
stochRight.selectAll("text").attr("fill",textGray).attr("font-size",axisFont)

const stochLeft = svg.append("g").attr("class","axis").attr("transform","translate(46,0)")
  .call(d3.axisLeft(yStoch).tickValues(stochLeftTicks).tickSize(0).tickPadding(0).tickFormat(d3.format(".2f")))
stochLeft.selectAll("text").attr("fill",textGray).attr("font-size",axisFont)

const timeAxis = svg.append("g").attr("clip-path","url(#time-clip)")
const timeInner = timeAxis.append("g").attr("class","axis").attr("transform","translate(0,882)")
  .call(d3.axisBottom(x).tickValues(timeTicks).tickSize(0).tickPadding(0).tickFormat((d,i)=>timeLabels[i]))
timeInner.selectAll("text").attr("fill",textGray).attr("font-size",11.6)
  .attr("font-weight",(d,i)=>timeLabels[i]==="2022"?"700":"400")

// right scale tags
svg.append("path").attr("d","M1254,499a3,3 0 0 1 3,-3h19v21h-19a3,3 0 0 1 -3,-3z").attr("fill","#131722")
svg.append("circle").attr("cx",1264.5).attr("cy",506.5).attr("r",7.5).attr("fill","none").attr("stroke","#fff")
svg.append("path").attr("d","M1264.5,502.5v8M1260.5,506.5h8").attr("stroke","#fff")
svg.append("path").attr("d","M1277,496h55a3,3 0 0 1 3,3v15a3,3 0 0 1 -3,3h-55z").attr("fill","#131722")
svg.append("text").attr("x",1286).attr("y",511).attr("fill","#fff").attr("font-size",11.6).attr("font-weight",600).text(d3.format(".5f")(crossPrice))
svg.append("path").attr("d","M1277,586h58a3,3 0 0 1 3,3v25a3,3 0 0 1 -3,3h-58z").attr("fill","#ff0000")
svg.append("text").attr("x",1286).attr("y",599).attr("fill","#fff").attr("font-size",11.6).attr("font-weight",600).text(d3.format(".5f")(lastClose))
svg.append("text").attr("x",1286).attr("y",613).attr("fill","#ffc9c9").attr("font-size",11.6).text("13:52:10")

svg.append("rect").attr("x",1185).attr("y",874).attr("width",70).attr("height",23).attr("rx",3).attr("fill","#131722")
svg.append("text").attr("x",1220).attr("y",891).attr("text-anchor","middle").attr("fill","#fff").attr("font-size",11.6).attr("font-weight",600).text("04 Apr '22")

// scale buttons
function smallBox(bx,by,w,h){ return svg.append("rect").attr("x",bx+.5).attr("y",by+.5).attr("width",w).attr("height",h).attr("rx",3).attr("fill","#fff").attr("stroke","#e0e3eb") }
smallBox(1225,41,20,20)
svg.append("path").attr("d","M1235.5,46v10M1231.5,52l4,4l4,-4").attr("fill","none").attr("stroke","#131722")
smallBox(1250,41,21,20)
svg.append("path").attr("d","M1255,49v-2a2,2 0 0 1 2,-2h7a2,2 0 0 1 2,2v2M1255,53v2a2,2 0 0 0 2,2h7a2,2 0 0 0 2,-2v-2").attr("fill","none").attr("stroke","#131722")
smallBox(1291,41,37,20)
svg.append("text").attr("x",1296).attr("y",55).attr("font-size",11).attr("fill",textGray).text("USD")
svg.append("path").attr("d","M1320.5,50l2.5,2.5l2.5,-2.5").attr("fill","none").attr("stroke",textGray)

// pane collapse badges
function paneBadge(bx,by,w,label){
  smallBox(bx,by,w,20)
  svg.append("path").attr("d",`M${bx+6},${by+8}l4,4l4,-4`).attr("fill","none").attr("stroke","#131722")
  svg.append("text").attr("x",bx+20).attr("y",by+15).attr("font-size",12).attr("fill","#131722").text(label)
}
paneBadge(65,65,38,"12")
paneBadge(65,794,32,"2")

// OHLC legend
const legendRed = "#ff5252"
const legendParts = [[64,"O",lineGray],[74,"1.11452",legendRed],[125,"H",lineGray],[135,"1.11558",legendRed],[187,"L",lineGray],[195,"1.11258",legendRed],[246,"C",lineGray],[255,"1.11328",legendRed],[306,"\u22120.00124",legendRed],[364,"(\u22120.11%)",legendRed]]
legendParts.forEach(p=>svg.append("text").attr("x",p[0]).attr("y",57).attr("font-size",12).attr("fill",p[2]).text(p[1]))

// Z and A buttons
svg.append("circle").attr("cx",28).attr("cy",887).attr("r",9.5).attr("fill","#f0f3fa")
svg.append("text").attr("x",28).attr("y",891).attr("text-anchor","middle").attr("font-size",11).attr("fill",textGray).text("Z")
svg.append("circle").attr("cx",1310).attr("cy",887).attr("r",9.5).attr("fill","#f0f3fa")
svg.append("text").attr("x",1310).attr("y",891).attr("text-anchor","middle").attr("font-size",11).attr("fill","#2962ff").text("A")

// toolbar
const bar = svg.append("g")
bar.append("rect").attr("x",0).attr("y",0).attr("width",1343).attr("height",34).attr("fill","#fff")
bar.append("line").attr("x1",0).attr("x2",1343).attr("y1",34.5).attr("y2",34.5).attr("stroke","#e0e3eb")
;[100,138,178,279,407,516,593,682,744,992,1031,1147,1187,1226].forEach(sx=>{
  bar.append("line").attr("x1",sx+.5).attr("x2",sx+.5).attr("y1",0).attr("y2",34).attr("stroke","#e0e3eb")
})
bar.append("rect").attr("x",1264).attr("y",0).attr("width",79).attr("height",34).attr("fill","#2962ff")
bar.append("text").attr("x",1304).attr("y",20).attr("text-anchor","middle").attr("font-size",14).attr("font-weight",500).attr("fill","#fff").text("Publish")
bar.append("text").attr("x",9).attr("y",20).attr("font-size",13).attr("font-weight",700).attr("fill","#131722").text("EURUSD")
const toolLabels = [[115,"D"],[213,"Compare"],[315,"Indicators"],[443,"Templates"],[553,"Alert"],[630,"Replay"],[1066,"EwaveD1"]]
toolLabels.forEach(t=>bar.append("text").attr("x",t[0]).attr("y",20).attr("font-size",13.1).attr("fill","#131722").text(t[1]))

const iconStroke = "#131722"
function icon(d,color){ bar.append("path").attr("d",d).attr("fill","none").attr("stroke",color||iconStroke) }
// candles icon
icon("M154.5,5v20M152.5,8.5h4v13h-4zM162.5,7v17M160.5,11.5h4v7h-4z")
// compare
bar.append("circle").attr("cx",196.5).attr("cy",15).attr("r",9).attr("fill","none").attr("stroke",iconStroke)
icon("M196.5,10v10M191.5,15h10")
// indicators
icon("M291,18l7,-7l5,4l8,-9M292,24v-4h4v4zM299,24v-7h4v7zM306,24v-9h4v9zM291,24.5h20")
// templates
icon("M419.5,7.5h6v6h-6zM429.5,7.5h6v6h-6zM419.5,17.5h6v6h-6zM429.5,17.5h6v6h-6z")
// alert
bar.append("circle").attr("cx",536).attr("cy",15).attr("r",8.5).attr("fill","none").attr("stroke",iconStroke)
icon("M536,9v6h-4M529,6l-3,3M543,6l3,3M541,21v8M537,25h8")
// replay
icon("M612,9.5v11l-6,-5.5zM620,9.5v11l-6,-5.5zM621,9v12")
// undo and redo
icon("M692,15h10c3,0 4,2 4,5M692,15l4,-4M692,15l4,4")
icon("M735,15h-9c-3,0 -4,2 -4,5M735,15l-4,-4M735,15l-4,4","#b2b5be")
// chevrons
;[[397,13],[1137,13]].forEach(c=>icon(`M${c[0]-3.5},${c[1]}l3.5,3l3.5,-3`))
// layout square
bar.append("rect").attr("x",1002.5).attr("y",8.5).attr("width",18).attr("height",15).attr("rx",3).attr("fill","none").attr("stroke",iconStroke)
// cloud
bar.append("path").attr("d","M1044,22h14c4,0 5,-3 4,-5c-1,-2 -3,-3 -4,-3c-1,-3 -4,-6 -7,-6c-3,0 -6,3 -6,6c-3,1 -6,2 -6,5c0,2 2,3 5,3z").attr("fill","none").attr("stroke",iconStroke).attr("stroke-dasharray","2 2")
// gear outline
const gearPoints = d3.range(48).map(k=>[k/48*Math.PI*2, (k%6<3)?10:7.6])
bar.append("path").attr("transform","translate(1166.5,15)")
  .attr("d",d3.lineRadial().angle(d=>d[0]).radius(d=>d[1]).curve(d3.curveLinearClosed)(gearPoints))
  .attr("fill","none").attr("stroke",iconStroke)
bar.append("circle").attr("cx",1166.5).attr("cy",15).attr("r",3.5).attr("fill","none").attr("stroke",iconStroke)
// fullscreen
icon("M1198,11v-3.5h3.5M1210,7.5h3.5v3.5M1198,19v3.5h3.5M1213.5,19v3.5h-3.5M1199,9l4,4M1212,9l-4,4M1199,21l4,-4M1212,21l-4,-4")
// camera
bar.append("rect").attr("x",1234.5).attr("y",9).attr("width",20).attr("height",14).attr("rx",2.5).attr("fill","none").attr("stroke",iconStroke)
bar.append("circle").attr("cx",1244.5).attr("cy",16).attr("r",4).attr("fill","none").attr("stroke",iconStroke)
icon("M1239,9l2,-3h7l2,3")
</script>
</body>
</html>
